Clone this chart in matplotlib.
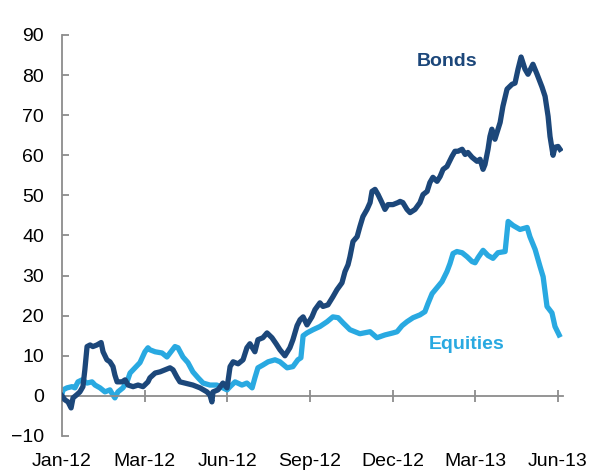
import numpy as np
import matplotlib
matplotlib.use("Agg")
import matplotlib.pyplot as plt

plt.rcParams["font.family"] = ["Liberation Sans", "DejaVu Sans"]

# months since Jan-12 (one quarter between tick labels)
bonds_x = [0.00, 0.11, 0.22, 0.33, 0.40, 0.54, 0.65, 0.76, 0.83, 0.91, 1.02, 1.12, 1.27, 1.42,
           1.49, 1.63, 1.74, 1.85, 1.92, 2.00, 2.18, 2.29, 2.40, 2.58, 2.76, 2.94, 3.12, 3.19,
           3.38, 3.56, 3.74, 3.92, 4.03, 4.17, 4.28, 4.46, 4.75, 5.01, 5.26, 5.37, 5.44, 5.48,
           5.66, 5.84, 5.99, 6.10, 6.21, 6.39, 6.57, 6.71, 6.82, 7.00, 7.11, 7.29, 7.44, 7.62,
           7.77, 7.91, 8.09, 8.27, 8.38, 8.53, 8.64, 8.75, 8.89, 9.07, 9.18, 9.36, 9.47, 9.65,
           9.83, 9.98, 10.16, 10.27, 10.38, 10.45, 10.56, 10.71, 10.81, 10.92, 11.07, 11.18,
           11.25, 11.36, 11.47, 11.61, 11.72, 11.83, 12.01, 12.19, 12.27, 12.37, 12.52, 12.63,
           12.81, 12.99, 13.10, 13.25, 13.35, 13.46, 13.61, 13.72, 13.83, 13.97, 14.15, 14.26,
           14.37, 14.52, 14.63, 14.73, 14.88, 15.06, 15.17, 15.28, 15.35, 15.46, 15.53, 15.60,
           15.71, 15.90, 16.00, 16.15, 16.33, 16.44, 16.55, 16.66, 16.80, 16.91, 17.09, 17.24,
           17.42, 17.53, 17.64, 17.71, 17.82, 17.89, 18.00, 18.07]
bonds = [0, -1, -1.5, -3, -0.5, 0.3, 1, 2.3, 6.5, 12.3, 12.7, 12.3, 12.7, 13.3,
         11, 9, 8.5, 7.3, 5.2, 3.5, 3.5, 4, 2.7, 2.3, 2.7, 2.3, 3.5, 4.5,
         5.7, 6, 6.5, 7, 6.5, 4.7, 3.5, 3.2, 2.7, 2, 1, 0.2, -1.5, 1,
         1.5, 3.2, 2, 7.3, 8.5, 8, 9, 12, 13, 11, 14, 14.5, 15.7, 14.5,
         13, 11.5, 10, 12, 14, 17.5, 19, 19.7, 17.7, 19.7, 21.5, 23.2, 22.3, 22.7,
         24.7, 26.5, 28.2, 31, 32.7, 34.7, 38.5, 39.7, 42.2, 44.7, 46.5, 48.2,
         51, 51.5, 50.2, 48.2, 46.5, 47.7, 47.7, 48.2, 48.5, 48.2, 46.5, 45.7,
         46.5, 48.2, 50.2, 51, 53.2, 54.5, 53.5, 54.7, 56.5, 57.2, 59.7, 61,
         61, 61.5, 60.2, 60.7, 59.5, 58.5, 59, 56.5, 57.7, 61.5, 64.7, 66.5,
         64, 68.2, 72.2, 76.5, 77.7, 78, 81.5, 84.5, 81.5, 80.2, 82.7, 80.2,
         77, 74.7, 69.7, 64.7, 60, 62, 62.2, 61.5]

equities_x = [0.00, 0.04, 0.18, 0.36, 0.47, 0.58, 0.73, 0.91, 1.09, 1.20, 1.38, 1.56, 1.74,
              1.85, 1.92, 2.03, 2.21, 2.36, 2.47, 2.65, 2.83, 3.01, 3.12, 3.19, 3.38, 3.63,
              3.81, 3.92, 4.10, 4.21, 4.39, 4.57, 4.75, 4.94, 5.12, 5.37, 5.62, 5.84, 5.99,
              6.10, 6.28, 6.53, 6.71, 6.90, 7.00, 7.11, 7.29, 7.48, 7.73, 7.91, 8.17, 8.38,
              8.56, 8.67, 8.75, 8.89, 9.11, 9.36, 9.62, 9.83, 10.02, 10.20, 10.45, 10.81,
              11.18, 11.43, 11.72, 12.01, 12.16, 12.34, 12.52, 12.74, 12.99, 13.17, 13.28,
              13.43, 13.61, 13.79, 13.97, 14.08, 14.19, 14.33, 14.52, 14.70, 14.88, 14.99,
              15.10, 15.28, 15.46, 15.64, 15.82, 16.08, 16.19, 16.37, 16.62, 16.88, 16.98,
              17.17, 17.35, 17.46, 17.60, 17.78, 17.89, 18.04]
equities = [0.5, 1.5, 2, 2.3, 2, 3.5, 4, 3.2, 3.5, 2.7, 2, 1, 1.5,
            0.2, -0.5, 1, 2, 3.5, 5.7, 7, 8.3, 11, 12, 11.5, 11, 10.7,
            9.7, 10.7, 12.3, 12, 9.7, 8.3, 6, 4.5, 3.2, 2.7, 2.7, 2, 1.5,
            2.3, 3.5, 2.7, 3.2, 2, 4.5, 7, 7.7, 8.5, 9, 8.5, 7, 7.3,
            9, 9.5, 15, 15.7, 16.5, 17.3, 18.5, 19.7, 19.5, 18.2, 16.5, 15.5,
            16, 14.5, 15.2, 15.7, 16, 17.5, 18.5, 19.5, 20.2, 21, 23,
            25.5, 27, 28.5, 31, 33, 35.5, 36, 35.7, 34.7, 33.5, 33.2,
            34.5, 36.3, 35, 34.3, 35.7, 36, 43.5, 42.5, 41.5, 42, 39.7,
            36.5, 32.2, 29.7, 22.3, 20.7, 17.3, 15.2]

tick_pos = [0, 3, 6, 9, 12, 15, 18]
tick_labels = ["Jan-12", "Mar-12", "Jun-12", "Sep-12", "Dec-12", "Mar-13", "Jun-13"]

bond_col = "#1C477A"
eq_col = "#29A9E1"
axis_col = "#8C8C8C"

fig = plt.figure(figsize=(5.96, 4.72), dpi=100)
ax = fig.add_axes([0.1040, 0.0763, 0.8406, 0.8496])

ax.plot(bonds_x, bonds, color=bond_col, lw=3.8, solid_joinstyle="round", zorder=3)
ax.plot(equities_x, equities, color=eq_col, lw=3.8, solid_joinstyle="round", zorder=2)

ax.set_xlim(0, 18.18)
ax.set_ylim(-10, 90)
ax.set_yticks(range(-10, 91, 10))
ax.set_xticks(tick_pos)
ax.set_xticklabels(tick_labels)

for s in ["top", "right"]:
    ax.spines[s].set_visible(False)
ax.spines["left"].set_color(axis_col)
ax.spines["left"].set_linewidth(1.3)
ax.spines["bottom"].set_position(("data", 0))
ax.spines["bottom"].set_color(axis_col)
ax.spines["bottom"].set_linewidth(1.3)

ax.tick_params(axis="y", direction="in", length=5, width=1.3, color=axis_col,
               labelsize=14, pad=13)
ax.tick_params(axis="x", direction="inout", length=8, width=1.3, color=axis_col,
               labelsize=14, pad=37)

ax.text(13.97, 83.3, "Bonds", color=bond_col, fontsize=14, fontweight="bold",
        ha="center", va="center")
ax.text(14.70, 12.7, "Equities", color=eq_col, fontsize=14, fontweight="bold",
        ha="center", va="center")

fig.savefig("out.png", dpi=100)
